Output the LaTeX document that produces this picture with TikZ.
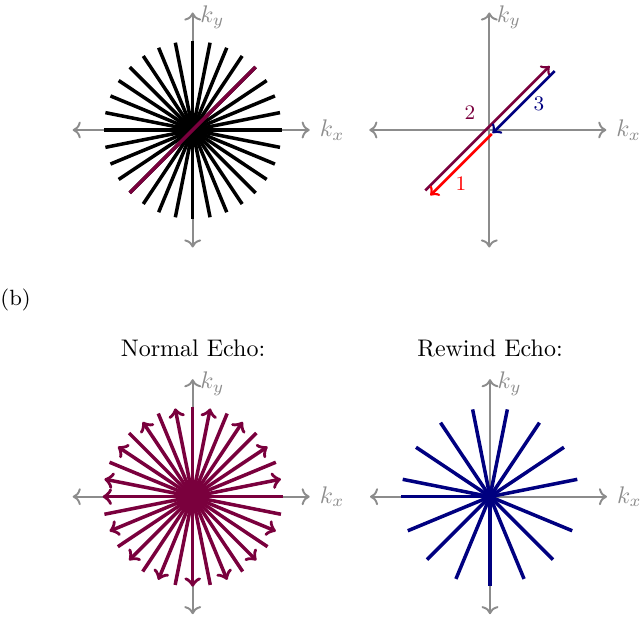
\documentclass[tikz,border=0pt]{standalone}
\usetikzlibrary{arrows.meta}
\definecolor{mag}{RGB}{122,0,61}
\definecolor{nav}{RGB}{0,0,128}
\definecolor{axgray}{RGB}{140,140,140}
\begin{document}
\begin{tikzpicture}[x=0.4167pt,y=0.4167pt,
  axis/.style={draw=axgray,line width=0.8pt,<->},
  axlab/.style={text=axgray,font=\normalsize,inner sep=3pt},
  spoke/.style={line width=1.46pt},
  traj/.style={line width=1.1pt,-{to[scale=1.4]}},
  echo/.style={line width=1.46pt,mag,-{to[scale=1.45]}},
  rew/.style={line width=1.46pt,nav},
  title/.style={font=\normalsize},
  num/.style={font=\fontsize{8.6}{10}\selectfont,inner sep=0pt}]
\useasboundingbox (0,0) rectangle (640,643);
\newcommand\kaxes{%
  \coordinate (W) at (-120,0); \coordinate (E) at (117,0);
  \coordinate (N) at (0,117.5); \coordinate (S) at (0,-117.5);
  \draw[axis] (W) -- (E); \draw[axis] (S) -- (N);
  \node[axlab,right,xshift=1pt] (kx) at (E) {$k_x$};
  \node[axlab,right,yshift=-2pt] (ky) at (N) {$k_y$};}
% top left
\begin{scope}[shift={(192.7,513)},name prefix=tl-]
  \kaxes
  \foreach \k in {0,...,15} \draw[spoke] (\k*11.25:89) -- (\k*11.25+180:89);
  \draw[spoke,mag] (45:89) -- (225:89);
\end{scope}
% top right
\begin{scope}[shift={(489.3,513)},name prefix=tr-]
  \kaxes
  \coordinate (m1) at (-64,-60.4); \coordinate (m2) at (60.4,64);
  \coordinate (b1) at (65.4,59); \coordinate (b2) at (3.2,-3.2);
  \coordinate (r1) at (2.5,-3.9); \coordinate (r2) at (-59,-65.4);
  \draw[traj,mag] (m1) -- (m2);
  \draw[traj,nav] (b1) -- (b2);
  \draw[traj,red] (r1) -- (r2);
  \node[num,text=mag] (n2) at (-19.3,17) {2};
  \node[num,text=nav] (n3) at (49.7,26) {3};
  \node[num,text=red] (n1) at (-28.3,-54) {1};
\end{scope}
\node[anchor=west,inner sep=0pt,font=\fontsize{9.2}{11}\selectfont] (b) at (0,343) {(b)};
\node[title] (ne) at (193,295) {Normal Echo:};
\node[title] (re) at (490,295) {Rewind Echo:};
% bottom left
\begin{scope}[shift={(192.7,146.3)},name prefix=bl-]
  \kaxes
  \foreach \k in {0,...,15}{%
    \ifodd\k \draw[echo] (\k*11.25+180:90) -- (\k*11.25:90);
    \else \draw[echo] (\k*11.25:90) -- (\k*11.25+180:90);\fi}
\end{scope}
% bottom right
\begin{scope}[shift={(490,146.3)},name prefix=br-]
  \kaxes
  \foreach \k in {0,...,15}{%
    \ifodd\k \draw[rew] (0,0) -- (\k*11.25:89);
    \else \draw[rew] (0,0) -- (\k*11.25+180:89);\fi}
\end{scope}
\end{tikzpicture}
\end{document}
